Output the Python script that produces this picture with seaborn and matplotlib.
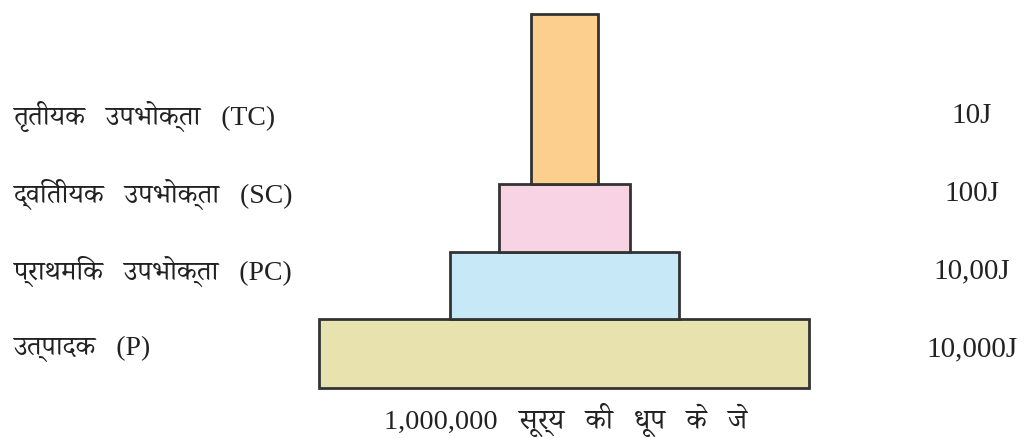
"""Pyramid of energy (ऊर्जा का पिरामिड) drawn with seaborn/matplotlib."""

import matplotlib

matplotlib.use("Agg")
import matplotlib.pyplot as plt
import seaborn as sns

# ---- data (bottom level first) ----
levels = ["उत्पादक   (P)", "प्राथमिक   उपभोक्ता   (PC)", "द्वितीयक   उपभोक्ता   (SC)", "तृतीयक   उपभोक्ता   (TC)"]
energy_labels = ["10,000J", "10,00J", "100J", "10J"]
block_width = [490, 229, 131, 67]
block_height = [69, 67, 68, 170]
block_colors = ["#E8E2AE", "#C7E9F7", "#F7D3E4", "#FCCF8E"]
sunlight_label = "1,000,000   सूर्य   की   धूप   के   जे"

sns.set_theme(style="white")
plt.rcParams["font.family"] = ["Liberation Serif", "Noto Serif Devanagari", "DejaVu Sans"]

fig = plt.figure(figsize=(10.24, 4.39), dpi=100)
ax = fig.add_axes([0, 0, 1, 1])
ax.set_xlim(-564, 1024 - 564)
ax.set_ylim(-50, 389)
ax.axis("off")

bottom = 0
for w, h, c in zip(block_width, block_height, block_colors):
    ax.bar(0, h, width=w, bottom=bottom, color=c, edgecolor="#333333", linewidth=2)
    bottom += h

label_y = [40, 118, 195, 273]
for name, val, y in zip(levels, energy_labels, label_y):
    ax.text(-551, y, name, ha="left", va="center", fontsize=20, color="#222222")
    ax.text(408, y, val, ha="center", va="center", fontsize=21, color="#222222")

ax.text(1, -31, sunlight_label, ha="center", va="center", fontsize=20.5, color="#222222")

fig.savefig("out.png", dpi=100)
